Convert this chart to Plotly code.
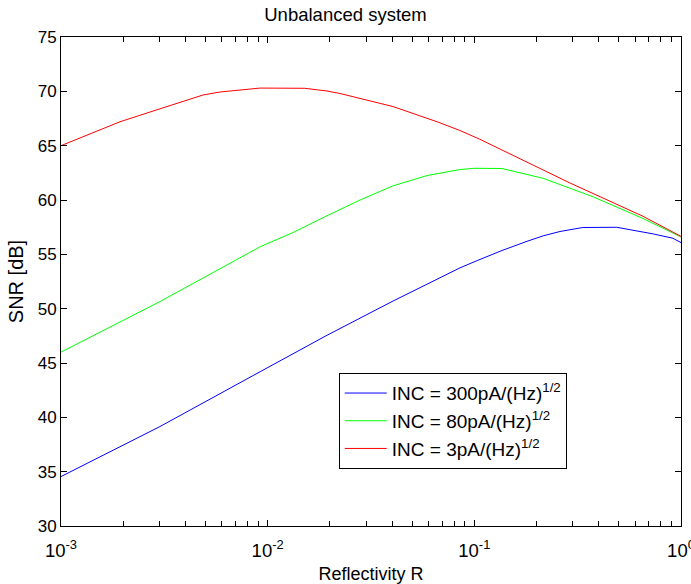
import plotly.graph_objects as go

# Reflectivity values (x) and SNR [dB] (y)
r_red = [0.001, 0.00193, 0.00301, 0.00486, 0.00588, 0.0092, 0.0151, 0.01936,
         0.0224, 0.0404, 0.066, 0.0851, 0.106, 0.29, 0.655, 1.0]
snr_red = [65.0, 67.2, 68.39, 69.66, 69.94, 70.3, 70.28, 70.03,
           69.8, 68.6, 67.2, 66.4, 65.6, 61.57, 58.5, 56.65]

r_green = [0.001, 0.00301, 0.0092, 0.01324, 0.01936, 0.028, 0.0404,
           0.059, 0.0851, 0.1, 0.136, 0.215, 0.375, 0.655, 1.0]
snr_green = [46.0, 50.65, 55.7, 57.0, 58.55, 60.0, 61.3,
             62.25, 62.8, 62.92, 62.9, 62.0, 60.3, 58.3, 56.6]

r_blue = [0.001, 0.00301, 0.0092, 0.01936, 0.0404, 0.0851, 0.104, 0.136,
          0.18, 0.215, 0.2596, 0.335, 0.488, 0.585, 0.733, 0.914, 1.0]
snr_blue = [34.55, 39.15, 44.2, 47.55, 50.7, 53.75, 54.45, 55.35,
            56.2, 56.7, 57.1, 57.47, 57.49, 57.24, 56.88, 56.48, 56.08]

x_tickvals = [0.001, 0.01, 0.1, 1]
x_ticktext = ["10<sup>-3</sup>", "10<sup>-2</sup>", "10<sup>-1</sup>", "10<sup>0</sup>"]

labels = ["INC = 300pA/(Hz)<sup>1/2</sup>",
          "INC = 80pA/(Hz)<sup>1/2</sup>",
          "INC = 3pA/(Hz)<sup>1/2</sup>"]

FONT = "Arial, Liberation Sans, sans-serif"

fig = go.Figure()
fig.add_trace(go.Scatter(x=r_blue, y=snr_blue, mode="lines", name=labels[0],
                         line=dict(color="rgb(0,0,255)", width=1)))
fig.add_trace(go.Scatter(x=r_green, y=snr_green, mode="lines", name=labels[1],
                         line=dict(color="rgb(0,255,0)", width=1)))
fig.add_trace(go.Scatter(x=r_red, y=snr_red, mode="lines", name=labels[2],
                         line=dict(color="rgb(255,0,0)", width=1)))

fig.update_layout(
    width=691, height=584,
    margin=dict(l=61, r=10, t=37, b=58),
    paper_bgcolor="white", plot_bgcolor="white",
    font=dict(family=FONT, size=17, color="black"),
    title=dict(text="Unbalanced system", x=0.5, xanchor="center",
               y=1 - 15 / 584, yanchor="middle", font=dict(size=18.5)),
    showlegend=True,
    legend=dict(x=0.448, y=0.3125, xanchor="left", yanchor="top",
                bgcolor="white", bordercolor="black", borderwidth=1,
                font=dict(size=19), tracegroupgap=0, itemwidth=42),
)

fig.update_xaxes(
    type="log", range=[-3, 0.00001], tickvals=x_tickvals, ticktext=x_ticktext,
    tickfont=dict(size=18.5), ticklabelstandoff=8, automargin=False,
    ticklabeloverflow="allow",
    showline=True, linecolor="black", linewidth=1, mirror="ticks",
    ticks="inside", ticklen=6, tickcolor="black",
    minor=dict(ticks="inside", ticklen=5, tickcolor="black", dtick="D1", showgrid=False),
    showgrid=False, zeroline=False,
    title=dict(text="Reflectivity R", standoff=8, font=dict(size=18)),
)
fig.update_yaxes(
    range=[30, 75], dtick=5, tick0=30, automargin=False,
    showline=True, linecolor="black", linewidth=1, mirror="ticks",
    ticks="inside", ticklen=6, tickcolor="black",
    showgrid=False, zeroline=False,
    title=dict(text="SNR [dB]", standoff=8),
)

fig.write_html("out.html")
